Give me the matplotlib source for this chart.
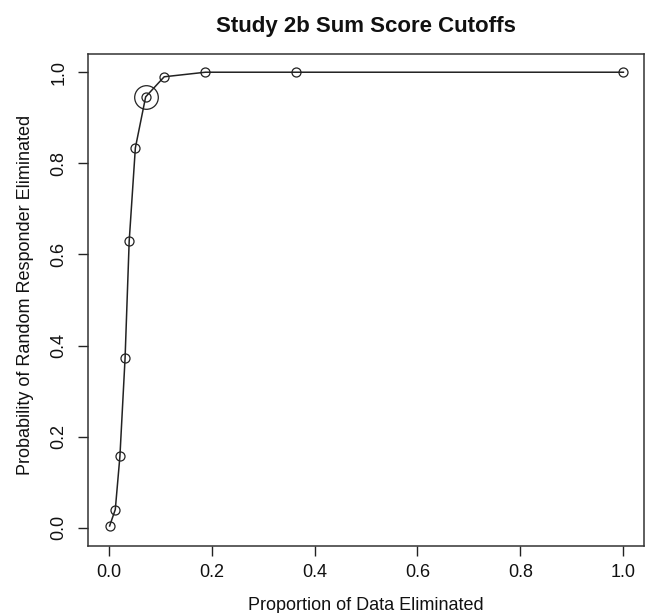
import matplotlib
matplotlib.use("Agg")
import matplotlib.pyplot as plt

plt.rcParams['font.family'] = ['Liberation Sans', 'DejaVu Sans']

prop_eliminated = [0.002, 0.013, 0.022, 0.032, 0.040, 0.052, 0.072, 0.108, 0.188, 0.364, 1.0]
prob_random = [0.004, 0.040, 0.157, 0.372, 0.629, 0.834, 0.946, 0.990, 1.0, 1.0, 1.0]
highlight_index = 6

title = "Study 2b Sum Score Cutoffs"
xlabel = "Proportion of Data Eliminated"
ylabel = "Probability of Random Responder Eliminated"
ticks = [0.0, 0.2, 0.4, 0.6, 0.8, 1.0]
tick_labels = ["0.0", "0.2", "0.4", "0.6", "0.8", "1.0"]

fig = plt.figure(figsize=(6.49, 6.13), dpi=100)
ax = fig.add_axes([88/649, 1-546/613, (644-88)/649, (546-54)/613])

ax.plot(prop_eliminated, prob_random, color='#222222', lw=1.1, marker='o',
        markersize=6.5, markerfacecolor='none', markeredgecolor='#222222', markeredgewidth=0.9)
ax.plot([prop_eliminated[highlight_index]], [prob_random[highlight_index]], marker='o',
        markersize=17, markerfacecolor='none', markeredgecolor='#222222', markeredgewidth=0.9,
        linestyle='none')

ax.set_xlim(-0.04, 1.04)
ax.set_ylim(-0.04, 1.04)
ax.set_xticks(ticks)
ax.set_xticklabels(tick_labels)
ax.set_yticks(ticks)
ax.set_yticklabels(tick_labels, rotation=90, va='center')
ax.tick_params(axis='both', direction='out', length=7, width=1, labelsize=13, pad=6,
               colors='#222222', labelcolor='#111111')
ax.tick_params(axis='y', pad=8)
for s in ax.spines.values():
    s.set_linewidth(1.1)
    s.set_color('#333333')

cx = 0.5 * (88 + 644) / 649
fig.text(cx, 1 - 32/613, title, ha='center', va='baseline',
         fontsize=16, fontweight='bold', color='#111111')
fig.text(cx, 1 - 610/613, xlabel, ha='center', va='baseline',
         fontsize=13, color='#111111')
fig.text(26/649, 1 - 295/613, ylabel, ha='center', va='center', rotation=90,
         fontsize=13, color='#111111')

fig.savefig("out.png", dpi=100, facecolor='white')
